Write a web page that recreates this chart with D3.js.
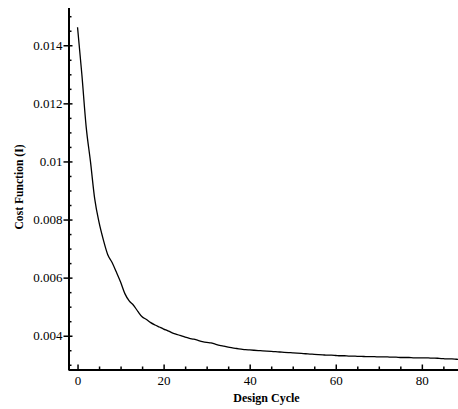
<!DOCTYPE html>
<html>
<head>
<meta charset="utf-8">
<script src="https://cdn.jsdelivr.net/npm/d3@7"></script>
<style>
  html, body { margin: 0; padding: 0; background: #fff; }
  svg { display: block; }
</style>
</head>
<body>
<div id="chart"></div>
<script>
// Cost function history over the design cycles
const cycles = d3.range(0, 90);
const cost = [
  0.01462, 0.01300, 0.01120, 0.01000, 0.00870, 0.00790, 0.00730, 0.00680, 0.00653, 0.00620,
  0.00585, 0.00545, 0.00520, 0.00505, 0.00484, 0.00465, 0.00456, 0.00445, 0.00437, 0.00430,
  0.00423, 0.00417, 0.00410, 0.00405, 0.00400, 0.00395, 0.00391, 0.00388, 0.00384, 0.00380,
  0.00377, 0.00375, 0.00371, 0.00367, 0.00364, 0.00361, 0.00358, 0.00356, 0.00354, 0.00352,
  0.00351, 0.00350, 0.00349, 0.00348, 0.00347, 0.00346, 0.00345, 0.00344, 0.00343, 0.00342,
  0.00341, 0.00340, 0.00339, 0.00338, 0.00337, 0.00336, 0.00335, 0.00334, 0.00333, 0.00333,
  0.00332, 0.00331, 0.00331, 0.00330, 0.00330, 0.00329, 0.00329, 0.00328, 0.00328, 0.00328,
  0.00327, 0.00327, 0.00327, 0.00326, 0.00326, 0.00325, 0.00325, 0.00325, 0.00324, 0.00324,
  0.00324, 0.00324, 0.00323, 0.00323, 0.00322, 0.00321, 0.00320, 0.00320, 0.00319, 0.00318
];
const xTicks = [0, 20, 40, 60, 80];
const xMinorTicks = [5, 10, 15, 25, 30, 35, 45, 50, 55, 65, 70, 75, 85];
const yTicks = [0.004, 0.006, 0.008, 0.01, 0.012, 0.014];
const yMinorTicks = [0.003, 0.0035, 0.0045, 0.005, 0.0055, 0.0065, 0.007, 0.0075,
  0.0085, 0.009, 0.0095, 0.0105, 0.011, 0.0115, 0.0125, 0.013, 0.0135, 0.0145, 0.015];
const yTickLabels = ["0.004", "0.006", "0.008", "0.01", "0.012", "0.014"];

const SERIF = "'Liberation Serif', 'Times New Roman', Times, serif";
const W = 458, H = 409;
const svg = d3.select("#chart").append("svg").attr("width", W).attr("height", H);

const x = d3.scaleLinear().domain([-2.1, 88.4]).range([68.5, 458]);
const y = d3.scaleLinear().domain([0.00282, 0.0153]).range([370, 7.5]);

const axisX = 369.5, axisY = 68.5;

// x axis: ticks point inward, labels below
const gx = svg.append("g").attr("transform", `translate(0,${axisX})`);
gx.call(d3.axisBottom(x).tickValues(xTicks).tickSize(-5).tickPadding(6).tickSizeOuter(0));
gx.append("g").call(d3.axisBottom(x).tickValues(xMinorTicks).tickSize(-3).tickFormat("").tickSizeOuter(0))
  .select(".domain").remove();

// y axis: major ticks cross the line, minors point inward
const gy = svg.append("g").attr("transform", `translate(${axisY},0)`);
gy.call(d3.axisLeft(y).tickValues(yTicks).tickSize(5).tickPadding(1).tickSizeOuter(0)
  .tickFormat((d, i) => yTickLabels[i]));
gy.append("g").call(d3.axisRight(y).tickValues(yTicks).tickSize(4).tickFormat("").tickSizeOuter(0))
  .select(".domain").remove();
gy.append("g").call(d3.axisRight(y).tickValues(yMinorTicks).tickSize(3).tickFormat("").tickSizeOuter(0))
  .select(".domain").remove();

svg.selectAll(".domain").attr("stroke", "#000").attr("stroke-width", 2);
svg.selectAll(".tick line").attr("stroke", "#000").attr("stroke-width", 1.5);
svg.selectAll(".tick text")
  .attr("font-family", SERIF)
  .attr("font-size", 13)
  .attr("fill", "#000");

// cost curve
const line = d3.line().x((d, i) => x(cycles[i])).y(d => y(d)).curve(d3.curveMonotoneX);
svg.append("path")
  .datum(cost)
  .attr("d", line)
  .attr("fill", "none")
  .attr("stroke", "#000")
  .attr("stroke-width", 1.3);

// axis titles
svg.append("text")
  .attr("x", 266.5).attr("y", 402)
  .attr("text-anchor", "middle")
  .attr("font-family", SERIF)
  .attr("font-weight", "bold").attr("font-size", 12)
  .text("Design Cycle");

svg.append("text")
  .attr("transform", "translate(22.5,187) rotate(-90)")
  .attr("text-anchor", "middle")
  .attr("font-family", SERIF)
  .attr("font-weight", "bold").attr("font-size", 11.6)
  .text("Cost Function (I)");
</script>
</body>
</html>
